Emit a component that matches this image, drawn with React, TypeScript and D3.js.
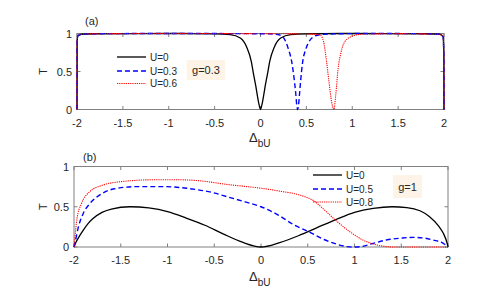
import React, { useEffect, useRef } from 'react';
import * as d3 from 'd3';

type Pt = [number, number];

const xTicks = [-2, -1.5, -1, -0.5, 0, 0.5, 1, 1.5, 2];
const yTicks = [0, 0.5, 1];

// panel (a), g = 0.3
const legendA = ['U=0', 'U=0.3', 'U=0.6'];
const aU0: Pt[] = [
    [-2, 0], [-1.998, 0.9], [-1.99, 0.97], [-1.95, 0.99], [-1.8, 0.997], [-1, 1], [-0.5, 0.995],
    [-0.33, 0.985], [-0.22, 0.94], [-0.15, 0.82], [-0.1, 0.63], [-0.078, 0.48], [-0.05, 0.3],
    [-0.035, 0.19], [-0.015, 0.06], [0, 0], [0.015, 0.06], [0.035, 0.19], [0.05, 0.3], [0.078, 0.48],
    [0.1, 0.63], [0.15, 0.82], [0.22, 0.94], [0.33, 0.985], [0.5, 0.995], [1, 1], [1.8, 0.997],
    [1.95, 0.99], [1.99, 0.96], [1.998, 0.7], [2, 0]
];
const aU03: Pt[] = [
    [-2, 0], [-1.998, 0.9], [-1.99, 0.97], [-1.95, 0.99], [-1.8, 0.997], [-1, 1], [0, 0.997],
    [0.15, 0.99], [0.21, 0.98], [0.26, 0.93], [0.3, 0.81], [0.34, 0.63], [0.37, 0.37], [0.385, 0.2],
    [0.395, 0.06], [0.405, 0], [0.415, 0.06], [0.425, 0.2], [0.437, 0.37], [0.46, 0.63], [0.49, 0.78],
    [0.515, 0.86], [0.57, 0.95], [0.65, 0.985], [0.8, 0.995], [1.2, 1], [1.8, 0.997], [1.95, 0.99],
    [1.99, 0.96], [1.998, 0.7], [2, 0]
];
const aU06: Pt[] = [
    [-2, 0], [-1.998, 0.9], [-1.99, 0.97], [-1.95, 0.99], [-1.8, 0.997], [-1, 1], [0.4, 0.995],
    [0.6, 0.99], [0.65, 0.98], [0.686, 0.9], [0.72, 0.63], [0.746, 0.37], [0.775, 0.1], [0.8, 0],
    [0.82, 0.19], [0.846, 0.54], [0.875, 0.74], [0.92, 0.895], [1.01, 0.97], [1.065, 0.985],
    [1.2, 0.993], [1.5, 0.998], [1.95, 0.99], [1.99, 0.96], [1.998, 0.7], [2, 0]
];

// panel (b), g = 1
const legendB = ['U=0', 'U=0.5', 'U=0.8'];
const bU0: Pt[] = [
    [-2, 0], [-1.99, 0.03], [-1.95, 0.12], [-1.9, 0.21], [-1.85, 0.29], [-1.8, 0.35], [-1.7, 0.43],
    [-1.6, 0.47], [-1.4, 0.5], [-1.2, 0.485], [-1, 0.44], [-0.8, 0.36], [-0.6, 0.27], [-0.4, 0.16],
    [-0.2, 0.06], [0, 0], [0.2, 0.055], [0.4, 0.14], [0.6, 0.24], [0.8, 0.34], [1, 0.43], [1.2, 0.48],
    [1.4, 0.5], [1.56, 0.49], [1.7, 0.45], [1.8, 0.38], [1.9, 0.26], [1.95, 0.17], [1.99, 0.05], [2, 0]
];
const bU05: Pt[] = [
    [-2, 0], [-1.99, 0.05], [-1.95, 0.26], [-1.9, 0.42], [-1.83, 0.54], [-1.72, 0.65], [-1.58, 0.72],
    [-1.33, 0.75], [-1.05, 0.75], [-0.7, 0.715], [-0.53, 0.68], [-0.35, 0.62], [-0.17, 0.56], [0, 0.5],
    [0.18, 0.4], [0.36, 0.27], [0.51, 0.19], [0.68, 0.09], [0.81, 0.035], [0.92, 0.005], [1, 0],
    [1.06, 0.003], [1.2, 0.045], [1.34, 0.087], [1.5, 0.11], [1.63, 0.12], [1.75, 0.11], [1.84, 0.087],
    [1.95, 0.045], [2, 0]
];
const bU08: Pt[] = [
    [-2, 0], [-1.99, 0.12], [-1.97, 0.34], [-1.92, 0.54], [-1.83, 0.69], [-1.69, 0.77], [-1.51, 0.81],
    [-1.15, 0.835], [-0.87, 0.835], [-0.68, 0.825], [-0.35, 0.775], [0, 0.73], [0.22, 0.69],
    [0.4, 0.65], [0.58, 0.56], [0.66, 0.48], [0.81, 0.32], [0.95, 0.19], [1.09, 0.087], [1.24, 0.025],
    [1.42, 0], [2, 0]
];

const styles = [
    { color: '#000000', dash: null, w: 1.3 },
    { color: '#0000ff', dash: '5,3', w: 1.4 },
    { color: '#ff0000', dash: '1.2,1', w: 1.1 }
];

const App = () => {
    const svgRef = useRef<SVGSVGElement>(null);
    const width = 497;
    const height = 304;

    useEffect(() => {
        const svg = d3.select(svgRef.current);
        svg.selectAll('*').remove();
        const font = 'Liberation Sans, Arial, Helvetica, sans-serif';
        const axisColor = '#808080';
        const textColor = '#262626';

        const panels = [
            {
                x0: 77, x1: 444, y0: 109.5, y1: 33.5, tag: '(a)', tagX: 85, tagY: 25,
                series: [aU0, aU03, aU06], legend: legendA, legX: 117, legY: [57, 71, 83.5],
                gText: 'g=0.3', gBox: [186.7, 60, 38.5, 20],
                tLabelX: 43, xlabY: 142, yLabX: 72, xTickY: 126.5
            },
            {
                x0: 74, x1: 448, y0: 247, y1: 166.5, tag: '(b)', tagX: 83, tagY: 160.5,
                series: [bU0, bU05, bU08], legend: legendB, legX: 313, legY: [175, 189, 202],
                gText: 'g=1', gBox: [393, 175, 29, 23],
                tLabelX: 42.5, xlabY: 281, yLabX: 69, xTickY: 263.5
            }
        ];

        panels.forEach(p => {
            const x = d3.scaleLinear().domain([-2, 2]).range([p.x0, p.x1]);
            const y = d3.scaleLinear().domain([0, 1]).range([p.y0, p.y1]);
            const g = svg.append('g');

            // box
            g.append('rect')
                .attr('x', p.x0).attr('y', p.y1)
                .attr('width', p.x1 - p.x0).attr('height', p.y0 - p.y1)
                .attr('fill', 'none').attr('stroke', axisColor).attr('stroke-width', 1);

            // inward ticks on all four sides
            xTicks.forEach(t => {
                g.append('line').attr('x1', x(t)).attr('x2', x(t)).attr('y1', p.y0).attr('y2', p.y0 - 3.5)
                    .attr('stroke', axisColor);
                g.append('line').attr('x1', x(t)).attr('x2', x(t)).attr('y1', p.y1).attr('y2', p.y1 + 3.5)
                    .attr('stroke', axisColor);
                g.append('text').attr('x', x(t)).attr('y', p.xTickY)
                    .attr('text-anchor', 'middle').attr('font-family', font).attr('font-size', 11)
                    .attr('fill', textColor).text(String(t));
            });
            yTicks.forEach(t => {
                g.append('line').attr('x1', p.x0).attr('x2', p.x0 + 3.5).attr('y1', y(t)).attr('y2', y(t))
                    .attr('stroke', axisColor);
                g.append('line').attr('x1', p.x1).attr('x2', p.x1 - 3.5).attr('y1', y(t)).attr('y2', y(t))
                    .attr('stroke', axisColor);
                g.append('text').attr('x', p.yLabX).attr('y', y(t))
                    .attr('text-anchor', 'end').attr('dominant-baseline', 'central')
                    .attr('font-family', font).attr('font-size', 11)
                    .attr('fill', textColor).text(String(t));
            });

            // curves
            const line = d3.line<Pt>()
                .x(d => x(d[0]))
                .y(d => y(d[1]))
                .curve(d3.curveMonotoneX);
            p.series.forEach((s, i) => {
                const st = styles[i];
                g.append('path')
                    .datum(s)
                    .attr('fill', 'none')
                    .attr('stroke', st.color)
                    .attr('stroke-width', st.w)
                    .attr('stroke-dasharray', st.dash)
                    .attr('d', line);
            });

            // legend
            p.legend.forEach((lab, i) => {
                const st = styles[i];
                g.append('line')
                    .attr('x1', p.legX).attr('x2', p.legX + 29)
                    .attr('y1', p.legY[i]).attr('y2', p.legY[i])
                    .attr('stroke', st.color).attr('stroke-width', st.w)
                    .attr('stroke-dasharray', st.dash);
                g.append('text').attr('x', p.legX + 33).attr('y', p.legY[i])
                    .attr('dominant-baseline', 'central').attr('font-family', font)
                    .attr('font-size', 10).attr('fill', textColor).text(lab);
            });

            // g label
            const [bx, by, bw, bh] = p.gBox;
            g.append('rect').attr('x', bx).attr('y', by).attr('width', bw).attr('height', bh)
                .attr('fill', '#fdf3e6');
            g.append('text').attr('x', bx + bw / 2).attr('y', by + bh / 2)
                .attr('text-anchor', 'middle').attr('dominant-baseline', 'central')
                .attr('font-family', font).attr('font-size', 11).attr('fill', textColor).text(p.gText);

            // panel tag
            g.append('text').attr('x', p.tagX).attr('y', p.tagY)
                .attr('font-family', font).attr('font-size', 11).attr('fill', textColor).text(p.tag);

            // y label
            g.append('text')
                .attr('transform', `translate(${p.tLabelX},${(p.y0 + p.y1) / 2}) rotate(-90)`)
                .attr('text-anchor', 'middle').attr('dominant-baseline', 'central')
                .attr('font-family', font).attr('font-size', 11).attr('fill', textColor).text('T');

            // x label
            const xl = g.append('text').attr('x', 249).attr('y', p.xlabY)
                .attr('font-family', font).attr('fill', textColor);
            xl.append('tspan').attr('font-size', 13).text('Δ');
            xl.append('tspan').attr('font-size', 10).attr('dy', 5).text('bU');
        });
    }, []);

    return (
        <svg
            ref={svgRef}
            width={width}
            height={height}
            style={{ position: 'absolute', left: 0, top: 0, background: '#fff' }}
        />
    );
};

export default App;
